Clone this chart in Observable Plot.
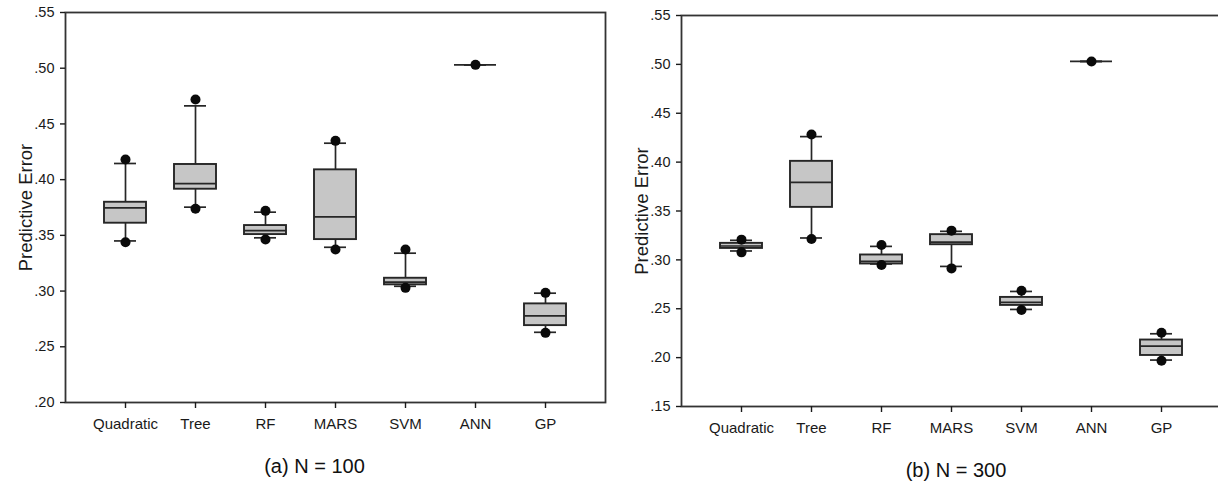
<!DOCTYPE html>
<html>
<head>
<meta charset="utf-8">
<script src="https://cdn.jsdelivr.net/npm/d3@7"></script>
<script src="https://cdn.jsdelivr.net/npm/@observablehq/plot@0.6"></script>
<style>
  html, body { margin: 0; padding: 0; background: #fff; }
  #wrap { width: 1218px; height: 483px; overflow: hidden; display: flex; position: relative; font-family: "Liberation Sans", Arial, sans-serif; }
  .panel { flex: none; }
  .cap { font-size: 20px; line-height: 20px; color: #111; text-align: center; white-space: nowrap; }
</style>
</head>
<body>
<div id="wrap">
  <div class="panel" id="pa" style="width:610px"></div>
  <div class="panel" id="pb" style="width:608px"></div>
</div>
<script>
const methods = ["Quadratic", "Tree", "RF", "MARS", "SVM", "ANN", "GP"];

// (a) N = 100
const lowOutlier100  = [0.3438, 0.3738, 0.3463, 0.3373, 0.3029, 0.503, 0.2625];
const lowWhisker100  = [0.3450, 0.3753, 0.3478, 0.3393, 0.3043, 0.503, 0.2630];
const q1_100         = [0.3609, 0.3914, 0.3507, 0.3462, 0.3056, 0.503, 0.2690];
const median100      = [0.3747, 0.3965, 0.3543, 0.3666, 0.3080, 0.503, 0.2778];
const q3_100         = [0.3797, 0.4136, 0.3588, 0.4088, 0.3115, 0.503, 0.2885];
const highWhisker100 = [0.4145, 0.4662, 0.3708, 0.4327, 0.3340, 0.503, 0.2981];
const highOutlier100 = [0.4180, 0.4719, 0.3720, 0.4348, 0.3373, 0.503, 0.2984];
const yTicks100 = [0.20, 0.25, 0.30, 0.35, 0.40, 0.45, 0.50, 0.55];

// (b) N = 300
const lowOutlier300  = [0.3077, 0.3214, 0.2948, 0.2913, 0.2487, 0.503, 0.1968];
const lowWhisker300  = [0.3091, 0.3224, 0.2958, 0.2933, 0.2493, 0.503, 0.1975];
const q1_300         = [0.3117, 0.3537, 0.2958, 0.3155, 0.2534, 0.503, 0.2022];
const median300      = [0.3142, 0.3793, 0.2985, 0.3182, 0.2565, 0.503, 0.2118];
const q3_300         = [0.3169, 0.4008, 0.3050, 0.3258, 0.2616, 0.503, 0.2180];
const highWhisker300 = [0.3200, 0.4261, 0.3138, 0.3292, 0.2677, 0.503, 0.2244];
const highOutlier300 = [0.3207, 0.4282, 0.3152, 0.3299, 0.2684, 0.503, 0.2254];
const yTicks300 = [0.15, 0.20, 0.25, 0.30, 0.35, 0.40, 0.45, 0.50, 0.55];

const yLabel = "Predictive Error";
const captionA = "(a) N = 100";
const captionB = "(b) N = 300";

const fmt = d => d.toFixed(2).replace(/^0/, "");
const ink = "#262626";

function panel(o) {
  const rows = methods.map((m, i) => ({
    m, lo: o.lo[i], lw: o.lw[i], q1: o.q1[i], med: o.med[i], q3: o.q3[i], hw: o.hw[i], ho: o.ho[i]
  }));
  const outliers = rows.flatMap(d => d.lo === d.ho ? [{m: d.m, v: d.lo}] : [{m: d.m, v: d.lo}, {m: d.m, v: d.ho}]);
  return Plot.plot({
    width: o.width,
    height: o.height,
    marginLeft: o.marginLeft,
    marginRight: o.marginRight,
    marginTop: o.marginTop,
    marginBottom: o.marginBottom,
    style: {fontFamily: "Liberation Sans, Arial, sans-serif", color: "#1a1a1a", background: "white", maxWidth: "none", overflow: "visible"},
    x: {type: "band", domain: methods, paddingInner: 0.4, paddingOuter: 0.557, align: 0.5},
    y: {domain: o.yDomain},
    marks: [
      Plot.ruleX(rows, {x: "m", y1: "lw", y2: "q1", stroke: ink, strokeWidth: 1.7}),
      Plot.ruleX(rows, {x: "m", y1: "q3", y2: "hw", stroke: ink, strokeWidth: 1.7}),
      Plot.barY(rows, {x: "m", y1: "q1", y2: "q3", fill: "#c6c6c6", stroke: ink, strokeWidth: 1.9}),
      Plot.tickY(rows, {x: "m", y: "med", stroke: ink, strokeWidth: 1.7}),
      Plot.tickY(rows, {x: "m", y: "lw", stroke: ink, strokeWidth: 1.7, inset: 10}),
      Plot.tickY(rows, {x: "m", y: "hw", stroke: ink, strokeWidth: 1.7, inset: 10}),
      Plot.dot(outliers, {x: "m", y: "v", r: 5, fill: "#0a0a0a", stroke: "none"}),
      Plot.frame({stroke: "#333", strokeWidth: 1.8}),
      Plot.axisY({ticks: o.yTicks, tickFormat: fmt, tickSize: 5, tickPadding: 6, fontSize: 14.5, label: null, strokeWidth: 1.4}),
      Plot.axisX({tickSize: 6, tickPadding: 10, fontSize: 15, label: null, strokeWidth: 1.4}),
      Plot.text([yLabel], {frameAnchor: "left", rotate: -90, dx: -39, fontSize: 18.5, textAnchor: "middle", fill: "#1a1a1a"})
    ]
  });
}

const a = panel({
  lo: lowOutlier100, lw: lowWhisker100, q1: q1_100, med: median100, q3: q3_100, hw: highWhisker100, ho: highOutlier100,
  yDomain: [0.20, 0.55], yTicks: yTicks100,
  width: 610, height: 440, marginLeft: 65, marginRight: 5, marginTop: 12, marginBottom: 38
});
const b = panel({
  lo: lowOutlier300, lw: lowWhisker300, q1: q1_300, med: median300, q3: q3_300, hw: highWhisker300, ho: highOutlier300,
  yDomain: [0.15, 0.55], yTicks: yTicks300,
  width: 612, height: 444, marginLeft: 71, marginRight: 1, marginTop: 15, marginBottom: 38
});

const pa = document.getElementById("pa");
const pb = document.getElementById("pb");
pa.appendChild(a);
pb.appendChild(b);

const ca = document.createElement("div");
ca.className = "cap";
ca.style.marginTop = "16px";
ca.style.paddingLeft = "19px";
ca.textContent = captionA;
pa.appendChild(ca);

const cb = document.createElement("div");
cb.className = "cap";
cb.style.marginTop = "16px";
cb.style.paddingLeft = "84px";
cb.textContent = captionB;
pb.appendChild(cb);
</script>
</body>
</html>
